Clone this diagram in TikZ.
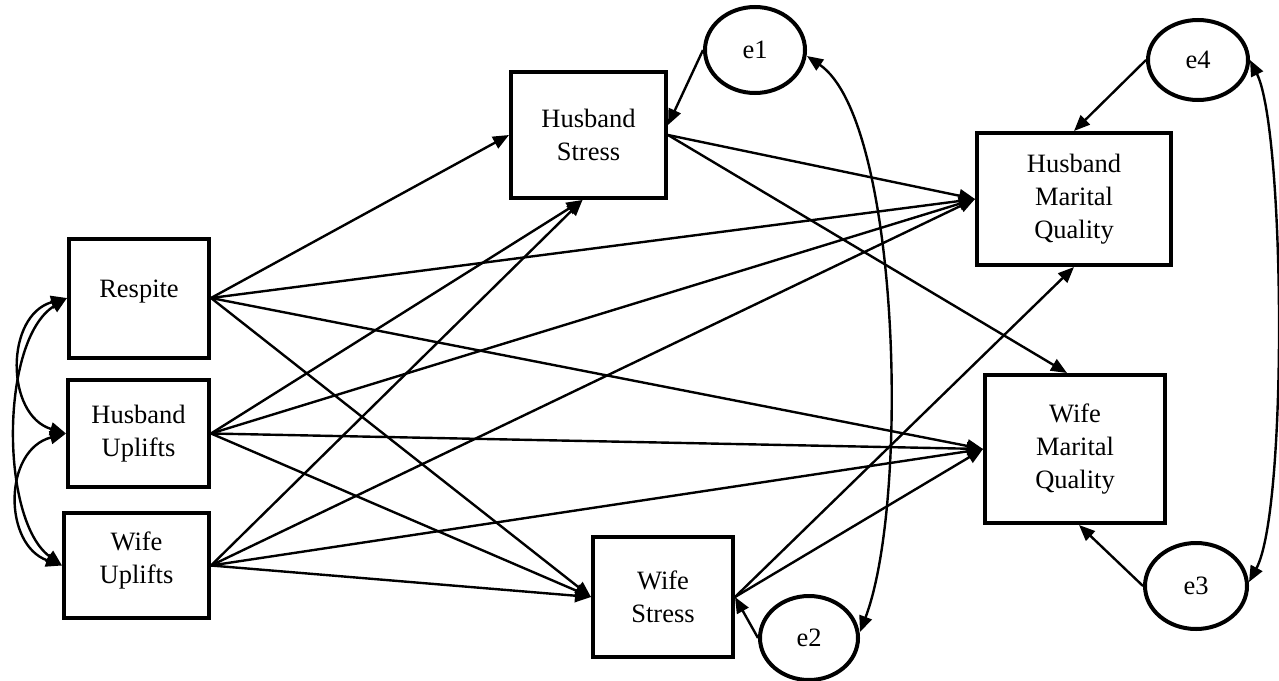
\documentclass[tikz,border=0pt]{standalone}
\usepackage{fontspec}
\setmainfont{Liberation Serif}
\usetikzlibrary{arrows.meta,shapes.geometric}
\newcommand{\upby}[2]{\raisebox{0pt}[\height][\dimexpr\depth+#1\relax]{#2}}
\begin{document}
\begin{tikzpicture}[x=1pt,y=-1pt,
  var/.style={draw,line width=4pt,rectangle,align=center,inner sep=0pt,
    font=\fontsize{26.5}{33}\selectfont},
  err/.style={draw,line width=4pt,ellipse,inner sep=0pt,
    font=\fontsize{26.5}{33}\selectfont},
  path/.style={line width=2.4pt,-{Triangle[length=16pt,width=13pt]}},
  cov/.style={line width=2.4pt,{Triangle[length=16pt,width=13pt]}-{Triangle[length=16pt,width=13pt]}}]
\useasboundingbox (0,0) rectangle (1279,680);
% observed variables
\node[var,minimum width=140pt,minimum height=119pt] (R) at (139,298) {\upby{12pt}{Respite}};
\node[var,minimum width=141pt,minimum height=107pt] (HU) at (138.5,433.5) {Husband\\Uplifts};
\node[var,minimum width=145pt,minimum height=105pt] (WU) at (136.5,565.5) {Wife\\\upby{10pt}{Uplifts}};
\node[var,minimum width=155pt,minimum height=126pt] (HS) at (588.5,135) {Husband\\Stress};
\node[var,minimum width=140pt,minimum height=120pt] (WS) at (663,597) {Wife\\Stress};
\node[var,minimum width=194pt,minimum height=132pt] (HMQ) at (1074,199) {Husband\\Marital\\Quality};
\node[var,minimum width=180pt,minimum height=148pt] (WMQ) at (1075,449) {Wife\\Marital\\Quality};
% errors
\node[err,minimum width=100pt,minimum height=86pt] (e1) at (755,50) {e1};
\node[err,minimum width=98pt,minimum height=84pt] (e2) at (809,638) {e2};
\node[err,minimum width=102pt,minimum height=86pt] (e3) at (1196,586) {e3};
\node[err,minimum width=100pt,minimum height=80pt] (e4) at (1198,60) {e4};
% paths from Respite
\draw[path] (R.east) -- (HS.west);
\draw[path] (R.east) -- (HMQ.west);
\draw[path] (R.east) -- (WMQ.west);
\draw[path] (R.east) -- (WS.west);
% paths from Husband Uplifts
\draw[path] (HU.east) -- ([xshift=-6pt]HS.south);
\draw[path] (HU.east) -- (HMQ.west);
\draw[path] (HU.east) -- (WMQ.west);
\draw[path] (HU.east) -- (WS.west);
% paths from Wife Uplifts
\draw[path] (WU.east) -- ([xshift=-6pt]HS.south);
\draw[path] (WU.east) -- (HMQ.west);
\draw[path] (WU.east) -- (WMQ.west);
\draw[path] (WU.east) -- (WS.west);
% paths from stresses
\draw[path] (HS.east) -- (HMQ.west);
\draw[path] (HS.east) -- ([xshift=-8pt]WMQ.north);
\draw[path] (WS.east) -- (HMQ.south);
\draw[path] (WS.east) -- (WMQ.west);
% error paths
\draw[path] (e1.west) -- ([yshift=10pt]HS.east);
\draw[path] (e2.west) -- (WS.east);
\draw[path] (e4.west) -- (HMQ.north);
\draw[path] (e3.west) -- ([xshift=4pt]WMQ.south);
% covariances
\draw[cov] (R.west) .. controls (5,315) and (5,415) .. (HU.west);
\draw[cov] (HU.west) .. controls (3,450) and (3,545) .. (WU.west);
\draw[cov] (R.west) .. controls (0,340) and (0,520) .. (WU.west);
\draw[cov] ([yshift=-6pt]e1.east) .. controls (900,120) and (910,500) .. ([yshift=6pt]e2.east);
\draw[cov] (e4.east) .. controls (1285,130) and (1288,510) .. ([yshift=4pt]e3.east);
\end{tikzpicture}
\end{document}
